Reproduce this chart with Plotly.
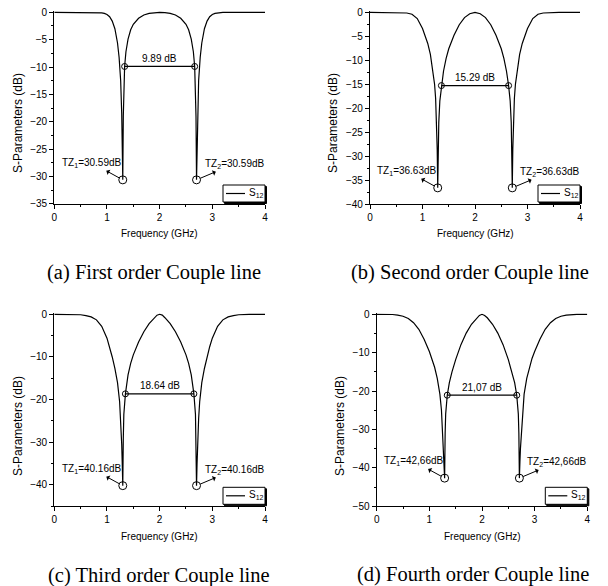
import plotly.graph_objects as go

# ---------------- data: S12 (dB) vs frequency (GHz) ----------------
# (a) first order coupled line
freq_a = [0.0, 0.5, 0.8, 0.9, 0.95, 1.0, 1.05, 1.1, 1.15, 1.2,
          1.23, 1.26, 1.28, 1.29, 1.30, 1.31, 1.32, 1.335, 1.36, 1.4,
          1.45, 1.5, 1.6, 1.7, 1.8, 1.9, 2.0,
          2.1, 2.2, 2.3, 2.4, 2.5, 2.55, 2.6, 2.64, 2.665, 2.68,
          2.69, 2.70, 2.71, 2.72, 2.74, 2.77, 2.8, 2.85, 2.9, 2.95,
          3.0, 3.05, 3.1, 3.2, 3.5, 4.0]
s12_a = [0.0, 0.0, -0.02, -0.1, -0.2, -0.4, -0.8, -1.6, -3.0, -5.6,
         -8.2, -12.5, -18.5, -24.0, -30.59, -19.0, -13.5, -9.89, -7.2, -4.9,
         -3.2, -2.2, -1.1, -0.5, -0.2, -0.05, 0.0,
         -0.05, -0.2, -0.5, -1.1, -2.2, -3.2, -4.9, -7.2, -9.89, -13.5,
         -19.0, -30.59, -24.0, -18.5, -12.5, -8.2, -5.6, -3.0, -1.6, -0.8,
         -0.4, -0.2, -0.1, -0.02, 0.0, 0.0]
tz_freq_a = [1.30, 2.70]
tz_db_a = -30.59
lvl_freq_a = [1.335, 2.665]
lvl_db_a = -9.89

# (b) second order coupled line
freq_b = [0.0, 0.4, 0.6, 0.7, 0.8, 0.9, 1.0, 1.05, 1.1, 1.15,
          1.2, 1.23, 1.25, 1.27, 1.28, 1.29, 1.30, 1.31, 1.33, 1.36,
          1.4, 1.45, 1.5, 1.6, 1.7, 1.8, 1.9, 2.0,
          2.1, 2.2, 2.3, 2.4, 2.5, 2.55, 2.6, 2.64, 2.67, 2.69,
          2.70, 2.71, 2.72, 2.73, 2.75, 2.77, 2.8, 2.85, 2.9, 2.95,
          3.0, 3.1, 3.2, 3.3, 3.4, 3.6, 4.0]
s12_b = [0.0, 0.0, -0.05, -0.15, -0.4, -1.3, -3.4, -4.8, -6.5, -8.8,
         -12.2, -15.0, -18.0, -23.5, -28.5, -36.63, -28.0, -23.0, -18.5, -15.29,
         -12.3, -9.6, -7.6, -4.8, -2.6, -1.1, -0.3, 0.0,
         -0.3, -1.1, -2.6, -4.8, -7.6, -9.6, -12.3, -15.29, -18.5, -23.0,
         -28.0, -36.63, -28.5, -23.5, -18.0, -15.0, -12.2, -8.8, -6.5, -4.8,
         -3.4, -1.3, -0.4, -0.15, -0.05, 0.0, 0.0]
tz_freq_b = [1.29, 2.71]
tz_db_b = -36.63
lvl_freq_b = [1.36, 2.64]
lvl_db_b = -15.29

# (c) third order coupled line
freq_c = [0.0, 0.3, 0.5, 0.6, 0.7, 0.8, 0.9, 1.0, 1.05, 1.1,
          1.15, 1.2, 1.24, 1.26, 1.28, 1.29, 1.30, 1.31, 1.32, 1.35,
          1.4, 1.45, 1.5, 1.6, 1.7, 1.8, 1.9, 1.95, 2.0,
          2.05, 2.1, 2.2, 2.3, 2.4, 2.5, 2.55, 2.6, 2.65, 2.68,
          2.69, 2.70, 2.71, 2.72, 2.74, 2.76, 2.8, 2.85, 2.9, 2.95,
          3.0, 3.1, 3.2, 3.3, 3.4, 3.5, 3.7, 4.0]
s12_c = [0.0, 0.0, -0.1, -0.3, -0.6, -1.3, -2.8, -5.6, -7.6, -10.0,
         -12.7, -16.0, -20.5, -24.5, -30.5, -35.0, -40.16, -29.0, -23.5, -18.64,
         -14.2, -11.5, -9.5, -6.5, -4.1, -2.2, -0.8, -0.2, 0.0,
         -0.2, -0.8, -2.2, -4.1, -6.5, -9.5, -11.5, -14.2, -18.64, -23.5,
         -29.0, -40.16, -35.0, -30.5, -24.5, -20.5, -16.0, -12.7, -10.0, -7.6,
         -5.6, -2.8, -1.3, -0.6, -0.3, -0.1, 0.0, 0.0]
tz_freq_c = [1.30, 2.70]
tz_db_c = -40.16
lvl_freq_c = [1.35, 2.65]
lvl_db_c = -18.64

# (d) fourth order coupled line
freq_d = [0.0, 0.2, 0.3, 0.4, 0.5, 0.6, 0.7, 0.8, 0.9, 1.0,
          1.05, 1.1, 1.15, 1.2, 1.23, 1.25, 1.27, 1.28, 1.29, 1.30,
          1.31, 1.34, 1.38, 1.43, 1.5, 1.6, 1.7, 1.8, 1.9, 1.95, 2.0,
          2.05, 2.1, 2.2, 2.3, 2.4, 2.5, 2.57, 2.62, 2.66, 2.69,
          2.70, 2.71, 2.72, 2.73, 2.75, 2.77, 2.8, 2.85, 2.9, 2.95,
          3.0, 3.1, 3.2, 3.3, 3.4, 3.5, 3.6, 3.7, 3.8, 4.0]
s12_d = [0.0, 0.0, -0.05, -0.2, -0.5, -1.1, -2.2, -3.9, -6.5, -9.7,
         -11.5, -13.8, -16.7, -20.8, -25.0, -30.0, -35.0, -38.5, -42.66, -31.0,
         -26.0, -21.07, -17.8, -15.0, -11.8, -7.9, -4.9, -2.6, -0.9, -0.3, 0.0,
         -0.3, -0.9, -2.6, -4.9, -7.9, -11.8, -15.0, -17.8, -21.07, -26.0,
         -31.0, -42.66, -38.5, -35.0, -30.0, -25.0, -20.8, -16.7, -13.8, -11.5,
         -9.7, -6.5, -3.9, -2.2, -1.1, -0.5, -0.2, -0.05, 0.0, 0.0]
tz_freq_d = [1.29, 2.71]
tz_db_d = -42.66
lvl_freq_d = [1.34, 2.66]
lvl_db_d = -21.07

captions = ["(a) First order Couple line", "(b) Second order Couple line",
            "(c) Third order Couple line", "(d) Fourth order Couple line"]
y_min = [-35, -40, -45, -50]
y_dtick = [5, 5, 10, 10]
decimal_sep = [".", ".", ".", ","]

# ---------------- layout geometry (pixels) ----------------
W, H = 608, 586
# left, right, y of 0 dB, y of bottom axis
boxes = [(54.3, 265.0, 12.3, 204.0), (370.0, 580.0, 12.3, 204.0),
         (54.3, 265.0, 314.3, 506.3), (376.7, 587.3, 314.3, 506.3)]
caption_pos = [(154, 272), (470, 272), (159, 575), (473, 574)]
xtitle_y = [233, 233, 536, 536]
ytitle_x = [18, 333, 18, 340]
ytitle_y = [123, 123, 426, 426]

SANS = "Liberation Sans, Arial, sans-serif"
SERIF = "Liberation Serif, Times New Roman, serif"
BLACK = "black"
TOP_PAD = 0.3  # dB of headroom above 0 dB so the flat line is not clipped

panels = [
    (freq_a, s12_a, tz_freq_a, tz_db_a, lvl_freq_a, lvl_db_a),
    (freq_b, s12_b, tz_freq_b, tz_db_b, lvl_freq_b, lvl_db_b),
    (freq_c, s12_c, tz_freq_c, tz_db_c, lvl_freq_c, lvl_db_c),
    (freq_d, s12_d, tz_freq_d, tz_db_d, lvl_freq_d, lvl_db_d),
]

fig = go.Figure()
annotations = []
shapes = []
layout_axes = {}


def fmt(v, sep):
    return f"{abs(v):.2f}".replace(".", sep)


for i, (fq, s12, tzf, tzdb, lvf, lvdb) in enumerate(panels):
    n = "" if i == 0 else str(i + 1)
    xa, ya = "x" + n, "y" + n
    left, right, top0, bottom = boxes[i]
    ppd = (bottom - top0) / abs(y_min[i])
    top = top0 - TOP_PAD * ppd

    # S12 curve
    fig.add_trace(go.Scatter(x=fq, y=s12, mode="lines", xaxis=xa, yaxis=ya,
                             line=dict(color=BLACK, width=1.2), showlegend=False,
                             hoverinfo="skip"))
    # level line between the two marked points
    fig.add_trace(go.Scatter(x=lvf, y=[lvdb, lvdb], mode="lines+markers",
                             xaxis=xa, yaxis=ya,
                             line=dict(color=BLACK, width=1.2),
                             marker=dict(symbol="circle-open", size=6,
                                         color=BLACK, line=dict(width=1)),
                             showlegend=False, cliponaxis=False))
    # transmission zeros
    fig.add_trace(go.Scatter(x=tzf, y=[tzdb, tzdb], mode="markers",
                             xaxis=xa, yaxis=ya,
                             marker=dict(symbol="circle-open", size=8,
                                         color=BLACK, line=dict(width=1)),
                             showlegend=False, cliponaxis=False))

    tickfont = dict(family=SANS, size=10, color=BLACK)
    layout_axes["xaxis" + n] = dict(
        domain=[left / W, right / W], range=[0, 4], anchor=ya,
        tick0=0, dtick=1, ticks="outside", ticklen=4, tickwidth=1, tickcolor=BLACK,
        minor=dict(dtick=0.5, tick0=0, ticks="outside", ticklen=2, tickcolor=BLACK),
        showline=True, linecolor=BLACK, linewidth=1.3, showgrid=False,
        zeroline=False, tickfont=tickfont, automargin=False, fixedrange=True)
    layout_axes["yaxis" + n] = dict(
        domain=[1 - bottom / H, 1 - top / H], range=[y_min[i], TOP_PAD],
        anchor=xa, tick0=0, dtick=y_dtick[i],
        ticks="outside", ticklen=4, tickwidth=1, tickcolor=BLACK,
        minor=dict(dtick=y_dtick[i] / 2, tick0=0, ticks="outside", ticklen=2,
                   tickcolor=BLACK),
        showline=True, linecolor=BLACK, linewidth=1.3, showgrid=False,
        zeroline=False, tickfont=tickfont, automargin=False, fixedrange=True)

    # axis titles
    annotations.append(dict(text="Frequency (GHz)", xref="paper", yref="paper",
                            x=(left + right) / 2 / W, y=1 - xtitle_y[i] / H,
                            showarrow=False, xanchor="center", yanchor="middle",
                            font=dict(family=SANS, size=10, color=BLACK)))
    annotations.append(dict(text="S-Parameters (dB)", xref="paper", yref="paper",
                            x=ytitle_x[i] / W, y=1 - ytitle_y[i] / H,
                            textangle=-90, showarrow=False,
                            xanchor="center", yanchor="middle",
                            font=dict(family=SANS, size=12, color=BLACK)))
    # caption
    cx, cy = caption_pos[i]
    annotations.append(dict(text=captions[i], xref="paper", yref="paper",
                            x=cx / W, y=1 - cy / H, showarrow=False,
                            xanchor="center", yanchor="middle",
                            font=dict(family=SERIF, size=20.5, color=BLACK)))

    # level label
    annotations.append(dict(text=f"{fmt(lvdb, decimal_sep[i])} dB", xref=xa, yref=ya,
                            x=sum(lvf) / 2, y=lvdb, yshift=8, showarrow=False,
                            xanchor="center", yanchor="middle",
                            font=dict(family=SANS, size=10, color=BLACK)))

    # transmission-zero labels, each with an arrow pointing from the zero to it
    for k, f0 in enumerate(tzf):
        label = f"TZ<sub>{k + 1}</sub>={fmt(tzdb, decimal_sep[i])}dB"
        ax, ay = (-31, -17) if k == 0 else (38, -16)
        annotations.append(dict(text=label, xref=xa, yref=ya, x=f0, y=tzdb,
                                ax=ax, ay=ay, xanchor="center", yanchor="middle",
                                showarrow=True, arrowside="start",
                                arrowhead=2, arrowsize=1, arrowwidth=1,
                                arrowcolor=BLACK, standoff=4, startstandoff=1,
                                font=dict(family=SANS, size=10, color=BLACK)))

    # legend box (bottom right corner of each panel)
    dw, dh = right - left, bottom - top
    bx1 = 1.0
    bx0 = 1.0 - 42 / dw
    by0 = 2 / dh
    by1 = 19 / dh
    sx, sy = 1.5 / dw, 1.5 / dh
    xd, yd = xa + " domain", ya + " domain"
    shapes.append(dict(type="rect", xref=xd, yref=yd, x0=bx0 + sx, x1=bx1 + sx,
                       y0=by0 - sy, y1=by1 - sy, fillcolor=BLACK,
                       line=dict(color=BLACK, width=1)))
    shapes.append(dict(type="rect", xref=xd, yref=yd, x0=bx0, x1=bx1,
                       y0=by0, y1=by1, fillcolor="white",
                       line=dict(color=BLACK, width=1)))
    shapes.append(dict(type="line", xref=xd, yref=yd, x0=bx0 + 3 / dw,
                       x1=bx0 + 22 / dw, y0=(by0 + by1) / 2, y1=(by0 + by1) / 2,
                       line=dict(color=BLACK, width=1.2)))
    annotations.append(dict(text="S<sub>12</sub>", xref=xd, yref=yd,
                            x=bx0 + 24 / dw, y=(by0 + by1) / 2 + 1 / dh,
                            xanchor="left", yanchor="middle", showarrow=False,
                            font=dict(family=SANS, size=10, color=BLACK)))

fig.update_layout(
    width=W, height=H, margin=dict(l=0, r=0, t=0, b=0),
    paper_bgcolor="white", plot_bgcolor="white", showlegend=False,
    annotations=annotations, shapes=shapes, **layout_axes,
)

fig.write_html("out.html")
